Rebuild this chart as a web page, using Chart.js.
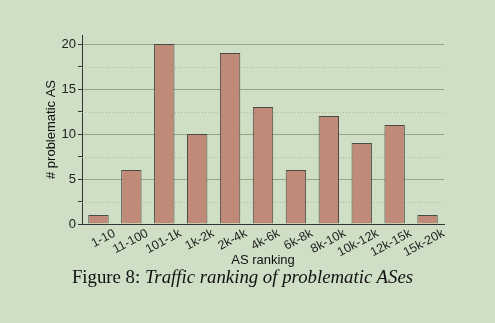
<!DOCTYPE html>
<html>
<head>
<meta charset="utf-8">
<script src="https://cdn.jsdelivr.net/npm/chart.js@4"></script>
<style>
  html, body { margin: 0; padding: 0; background: #cfdfc5; }
  .page { position: relative; width: 495px; height: 323px; overflow: hidden; }
  .plot { position: absolute; left: 0; top: 0; width: 495px; height: 268px; }
  .caption {
    position: absolute; left: -5px; width: 495px; top: 266px; text-align: center;
    font-family: "Liberation Serif", "DejaVu Serif", serif; font-size: 18.8px; color: #111;
  }
  .caption i { font-style: italic; }
</style>
</head>
<body>
<div class="page">
  <div class="plot"><canvas id="rankChart"></canvas></div>
  <div class="caption">Figure 8: <i>Traffic ranking of problematic ASes</i></div>
</div>
<script>
// 数据
const rankLabels = ['1-10', '11-100', '101-1k', '1k-2k', '2k-4k', '4k-6k', '6k-8k', '8k-10k', '10k-12k', '12k-15k', '15k-20k'];
const asCounts = [1, 6, 20, 10, 19, 13, 6, 12, 9, 11, 1];
const yTickValues = [0, 2.5, 5, 7.5, 10, 12.5, 15, 17.5, 20];

// 次网格线（虚线）
const minorGrid = {
  id: 'minorGrid',
  beforeDatasetsDraw(chart) {
    const y = chart.scales.y;
    const area = chart.chartArea;
    const ctx = chart.ctx;
    ctx.save();
    ctx.strokeStyle = 'rgba(150,170,140,0.7)';
    ctx.lineWidth = 1;
    ctx.setLineDash([1, 2]);
    yTickValues.filter(function(v) { return v % 5 !== 0; }).forEach(function(v) {
      const py = Math.round(y.getPixelForValue(v)) + 0.5;
      ctx.beginPath();
      ctx.moveTo(area.left, py);
      ctx.lineTo(area.right, py);
      ctx.stroke();
    });
    ctx.restore();
  }
};

new Chart(document.getElementById('rankChart'), {
  type: 'bar',
  data: {
    labels: rankLabels,
    datasets: [{
      data: asCounts,
      backgroundColor: '#c08a78',
      borderColor: '#4a4a44',
      borderWidth: 1,
      barPercentage: 0.62,
      categoryPercentage: 1.0
    }]
  },
  options: {
    responsive: true,
    maintainAspectRatio: false,
    animation: false,
    layout: { padding: { left: 44, right: 51, top: 35, bottom: 0 } },
    plugins: { legend: { display: false }, tooltip: { enabled: false } },
    scales: {
      x: {
        afterFit: function(s) { s.height = 44; },
        grid: { display: false, drawOnChartArea: false, tickLength: 4, tickColor: '#333' },
        border: { color: '#333', width: 1 },
        ticks: {
          color: '#222', minRotation: 28, maxRotation: 28, padding: -2, autoSkip: false,
          labelOffset: 16,
          font: { family: 'Liberation Sans, Arial, sans-serif', size: 12.5 }
        },
        title: {
          display: true, text: 'AS ranking', color: '#111', padding: { top: 0, bottom: 0 },
          font: { family: 'Liberation Sans, Arial, sans-serif', size: 13 }
        }
      },
      y: {
        min: 0, max: 21,
        afterFit: function(s) { s.width = 38; },
        afterBuildTicks: function(s) {
          s.ticks = yTickValues.map(function(v) { return { value: v }; });
        },
        grid: {
          color: function(c) {
            const v = c.tick.value;
            return (v > 0 && v % 5 === 0) ? 'rgba(140,160,130,0.9)' : 'rgba(0,0,0,0)';
          },
          tickColor: '#333',
          tickLength: 4
        },
        border: { color: '#333', width: 1 },
        ticks: {
          color: '#222', padding: 2,
          font: { family: 'Liberation Sans, Arial, sans-serif', size: 13 },
          callback: function(v) { return v % 5 === 0 ? v : ''; }
        },
        title: {
          display: true, text: '# problematic AS', color: '#111', padding: { top: 0, bottom: 0 },
          font: { family: 'Liberation Sans, Arial, sans-serif', size: 13 }
        }
      }
    }
  },
  plugins: [minorGrid]
});
</script>
</body>
</html>
